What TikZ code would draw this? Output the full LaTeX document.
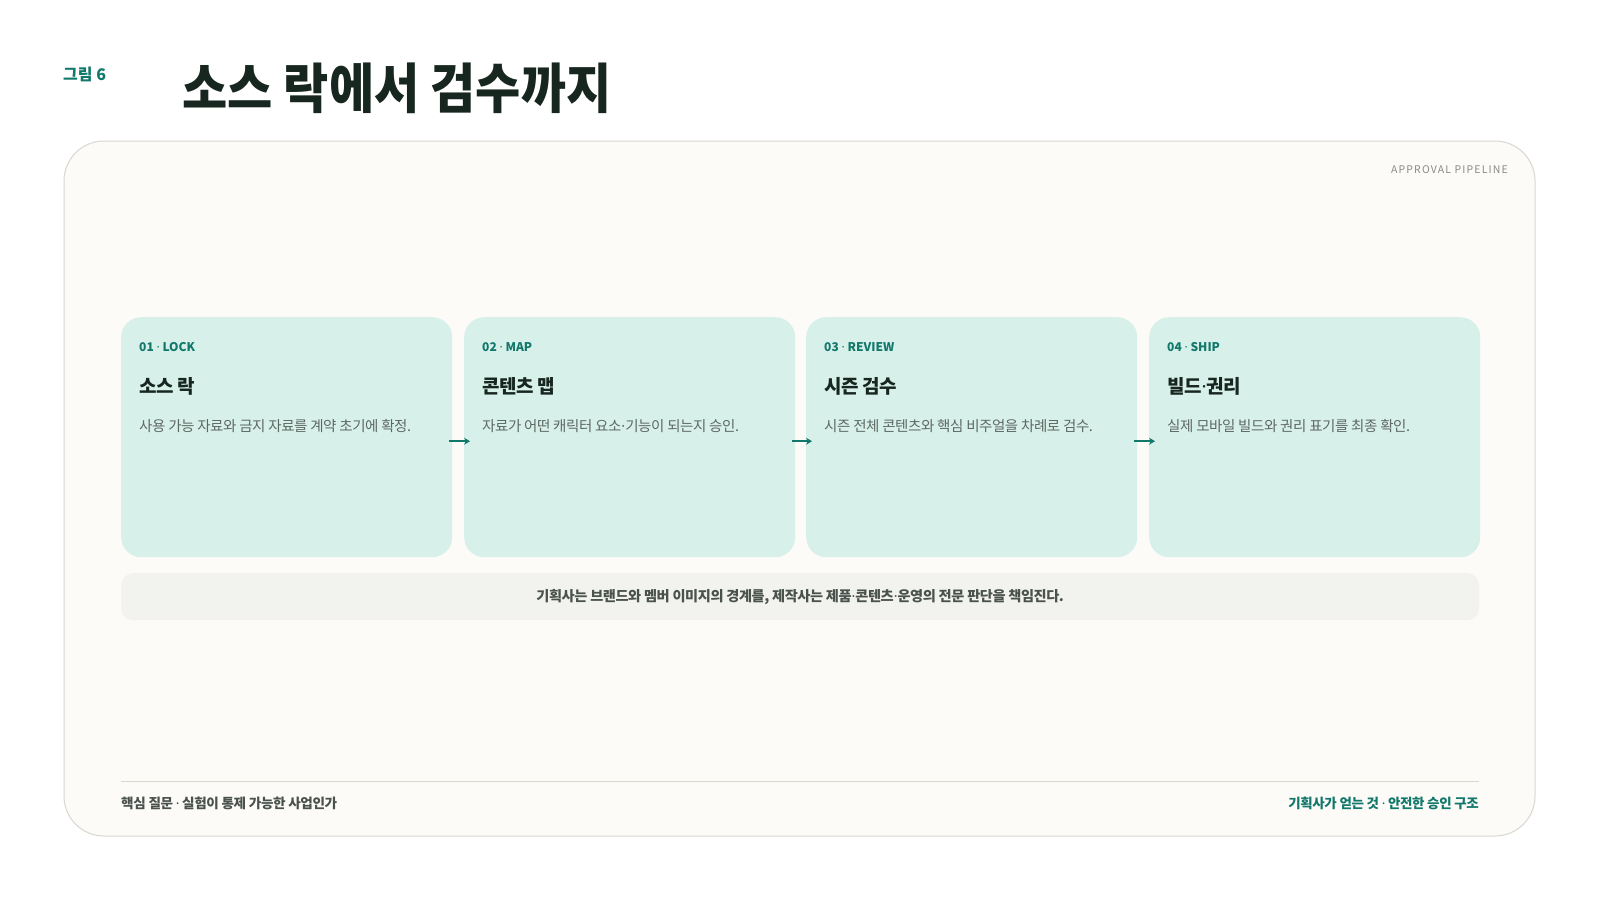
\documentclass[tikz,border=0pt]{standalone}
\usepackage{fontspec}
\usetikzlibrary{arrows.meta}
\setmainfont{Noto Sans CJK KR}
\newfontfamily\kr{Noto Sans CJK KR}
\newfontfamily\krt[LetterSpace=-3]{Noto Sans CJK KR}
\newfontfamily\krw[LetterSpace=11]{Noto Sans CJK KR}
\newfontfamily\lat{Noto Sans}
\newcommand\md{{\lat ·}}
\definecolor{teal1}{HTML}{11786B}
\definecolor{ink}{HTML}{17261F}
\definecolor{cardfill}{HTML}{D8F0EA}
\definecolor{framefill}{HTML}{FCFBF8}
\definecolor{framedraw}{HTML}{D9D7D0}
\definecolor{notefill}{HTML}{F2F2EE}
\definecolor{bodygray}{HTML}{5E6863}
\definecolor{notegray}{HTML}{4A524E}
\definecolor{lightgray}{HTML}{8A8A86}
\tikzset{
  card/.style={fill=cardfill, rounded corners=20pt, minimum width=331pt, minimum height=240pt, inner sep=0pt, anchor=north west},
  lab/.style={anchor=west, inner sep=0pt, text=teal1, font=\kr\bfseries\fontsize{12}{14}\selectfont},
  head/.style={anchor=west, inner sep=0pt, text=ink, font=\krt\bfseries\fontsize{19}{22}\selectfont},
  body/.style={anchor=west, inner sep=0pt, text=bodygray, font=\krt\fontsize{14.5}{17}\selectfont},
  flow/.style={->, >={Stealth[length=6pt,width=7pt]}, teal1, line width=1.6pt},
}
\begin{document}
\begin{tikzpicture}[x=1pt,y=-1pt]
\useasboundingbox[fill=white] (0,0) rectangle (1600,900);
\node[anchor=west, inner sep=0pt, text=teal1, font=\kr\bfseries\fontsize{16}{18}\selectfont] (fig) at (63,74) {그림 6};
\node[anchor=west, inner sep=0pt, text=ink, font=\kr\bfseries\fontsize{54}{60}\selectfont] (title) at (182,88) {\scalebox{0.91}[1]{소스 락에서 검수까지}};
\draw[fill=framefill, draw=framedraw, line width=1pt, rounded corners=40pt] (64,141) rectangle (1535,836);
\node[anchor=east, inner sep=0pt, text=lightgray, font=\krw\fontsize{10.5}{12}\selectfont] (tag) at (1508,170) {APPROVAL PIPELINE};
% cards
\node[card] (c1) at (121,317) {};
\node[card] (c2) at (464,317) {};
\node[card] (c3) at (806,317) {};
\node[card] (c4) at (1149,317) {};
\foreach \c/\l/\h/\b in {c1/01 \md{} LOCK/소스 락/사용 가능 자료와 금지 자료를 계약 초기에 확정.,
  c2/02 \md{} MAP/콘텐츠 맵/자료가 어떤 캐릭터 요소\md 기능이 되는지 승인.,
  c3/03 \md{} REVIEW/시즌 검수/시즌 전체 콘텐츠와 핵심 비주얼을 차례로 검수.,
  c4/04 \md{} SHIP/빌드\md 권리/실제 모바일 빌드와 권리 표기를 최종 확인.}{
  \node[lab] (\c-l) at ([shift={(18,30)}]\c.north west) {\l};
  \node[head] (\c-h) at ([shift={(18,69)}]\c.north west) {\h};
  \node[body] (\c-b) at ([shift={(18,109)}]\c.north west) {\b};
}
\draw[flow] ([shift={(-3,4)}]c1.east) -- ([shift={(6,4)}]c2.west);
\draw[flow] ([shift={(-3,4)}]c2.east) -- ([shift={(6,4)}]c3.west);
\draw[flow] ([shift={(-3,4)}]c3.east) -- ([shift={(6,4)}]c4.west);
% note
\node[fill=notefill, rounded corners=12pt, minimum width=1358pt, minimum height=47pt, inner sep=0pt, anchor=north west] (note) at (121,573) {};
\node[inner sep=0pt, text=notegray, font=\krt\bfseries\fontsize{14.2}{17}\selectfont] (notetext) at (note.center) {기획사는 브랜드와 멤버 이미지의 경계를, 제작사는 제품\md 콘텐츠\md 운영의 전문 판단을 책임진다.};
% footer
\coordinate (rl) at (121,781);
\coordinate (rr) at (1479,781);
\draw[framedraw, line width=1pt] (rl) -- (rr);
\node[anchor=west, inner sep=0pt, text=notegray, font=\krt\bfseries\fontsize{13.6}{16}\selectfont] (fl) at (121,803) {핵심 질문 \md{} 실험이 통제 가능한 사업인가};
\node[anchor=east, inner sep=0pt, text=teal1, font=\krt\bfseries\fontsize{13.5}{16}\selectfont] (fr) at (1479,803) {기획사가 얻는 것 \md{} 안전한 승인 구조};
\end{tikzpicture}
\end{document}
